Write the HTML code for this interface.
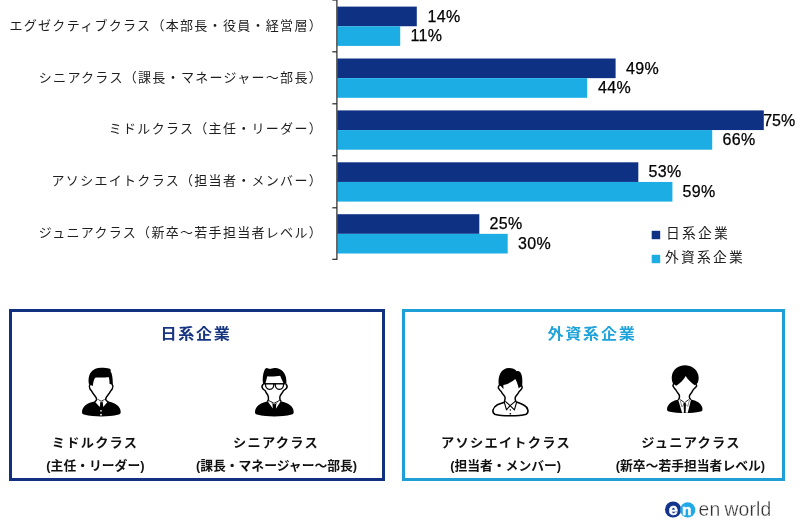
<!DOCTYPE html>
<html lang="ja">
<head>
<meta charset="utf-8">
<title>クラス別グラフ</title>
<style>
html,body{margin:0;padding:0;background:#fff;}
body{width:800px;height:528px;position:relative;overflow:hidden;font-family:"Liberation Sans","Noto Sans CJK JP",sans-serif;color:#1a1a1a;}
.abs{position:absolute;}
.bar{position:absolute;left:337.5px;height:19.6px;}
.d{background:#0f3184;}
.l{background:#1cade4;}
.cat{position:absolute;right:477px;white-space:nowrap;font-size:13px;letter-spacing:1.3px;line-height:20px;height:20px;font-weight:400;color:#1e1e1e;text-align:right;}
.val{position:absolute;white-space:nowrap;font-size:16px;letter-spacing:0.3px;-webkit-text-stroke:0.25px #000;line-height:20px;height:20px;color:#000;margin-top:0.1px;}
.tick{position:absolute;left:332px;width:5px;height:1px;background:#222;}
.lg{position:absolute;white-space:nowrap;font-size:13.8px;letter-spacing:2.2px;line-height:20px;font-weight:400;color:#222;}
.box{position:absolute;box-sizing:border-box;border:3px solid;}
.bt{position:absolute;white-space:nowrap;font-weight:700;font-size:15.2px;letter-spacing:1.6px;line-height:24px;text-align:center;transform:scaleX(1.06);}
.nm{margin-left:0.3px;position:absolute;white-space:nowrap;font-weight:700;font-size:12.6px;letter-spacing:1.2px;line-height:20px;text-align:center;color:#111;transform:translateX(-50%) scaleX(1.05);}
.sb{position:absolute;white-space:nowrap;font-weight:700;font-size:12.8px;letter-spacing:0;line-height:18px;text-align:center;color:#111;transform:translateX(-50%);}
</style>
</head>
<body>
<!-- chart -->
<svg class="abs" style="left:0;top:0" width="800" height="290" viewBox="0 0 800 290">
<rect x="337.3" y="6.60" width="79.5" height="19.65" fill="#0f3184"/>
<rect x="337.3" y="26.25" width="62.9" height="19.65" fill="#1cade4"/>
<rect x="337.3" y="58.50" width="278.3" height="19.65" fill="#0f3184"/>
<rect x="337.3" y="78.15" width="249.9" height="19.65" fill="#1cade4"/>
<rect x="337.3" y="110.40" width="426.5" height="19.65" fill="#0f3184"/>
<rect x="337.3" y="130.05" width="374.9" height="19.65" fill="#1cade4"/>
<rect x="337.3" y="162.30" width="301.0" height="19.65" fill="#0f3184"/>
<rect x="337.3" y="181.95" width="335.1" height="19.65" fill="#1cade4"/>
<rect x="337.3" y="214.20" width="142.0" height="19.65" fill="#0f3184"/>
<rect x="337.3" y="233.85" width="170.4" height="19.65" fill="#1cade4"/>
<rect x="336.3" y="0" width="1.2" height="259.9" fill="#262626"/>
<rect x="332.3" y="-0.60" width="4.6" height="1.2" fill="#262626"/>
<rect x="332.3" y="51.20" width="4.6" height="1.2" fill="#262626"/>
<rect x="332.3" y="103.20" width="4.6" height="1.2" fill="#262626"/>
<rect x="332.3" y="155.10" width="4.6" height="1.2" fill="#262626"/>
<rect x="332.3" y="207.20" width="4.6" height="1.2" fill="#262626"/>
<rect x="332.3" y="258.70" width="4.6" height="1.2" fill="#262626"/>
<rect x="651.7" y="230.8" width="8.5" height="8.4" fill="#0f3184"/>
<rect x="651.7" y="254.8" width="8.5" height="8.4" fill="#1cade4"/>
</svg>

<!-- category labels -->
<div class="cat" style="top:15.8px">エグゼクティブクラス（本部長・役員・経営層）</div>
<div class="cat" style="top:67.6px">シニアクラス（課長・マネージャー～部長）</div>
<div class="cat" style="top:119.45px">ミドルクラス（主任・リーダー）</div>
<div class="cat" style="top:171.3px">アソシエイトクラス（担当者・メンバー）</div>
<div class="cat" style="top:223.1px">ジュニアクラス（新卒～若手担当者レベル）</div>

<!-- values -->
<div class="val" style="left:427.5px;top:6.5px">14%</div>
<div class="val" style="left:410.5px;top:26px">11%</div>
<div class="val" style="left:626px;top:58.5px">49%</div>
<div class="val" style="left:598px;top:78px">44%</div>
<div class="val" style="left:763.2px;top:110.5px;letter-spacing:0">75%</div>
<div class="val" style="left:722.5px;top:130px">66%</div>
<div class="val" style="left:648.5px;top:162.3px">53%</div>
<div class="val" style="left:682.5px;top:182px">59%</div>
<div class="val" style="left:489.5px;top:214px">25%</div>
<div class="val" style="left:518px;top:233.7px">30%</div>

<!-- legend -->
<div class="lg" style="left:666px;top:224px">日系企業</div>
<div class="lg" style="left:665px;top:248px">外資系企業</div>

<!-- boxes -->
<div class="box" style="left:9px;top:309px;width:376px;height:172px;border-color:#11307f"></div>
<div class="box" style="left:402px;top:309px;width:383px;height:172px;border-color:#1e9fd6"></div>
<div class="bt" style="left:95.8px;width:200px;top:321.9px;color:#173581">日系企業</div>
<div class="bt" style="left:492.3px;width:200px;top:321.9px;color:#1fa3db">外資系企業</div>

<div class="nm" style="left:95px;top:433px">ミドルクラス</div>
<div class="sb" style="left:95.4px;top:456.5px">(主任・リーダー)</div>
<div class="nm" style="left:276px;top:433px">シニアクラス</div>
<div class="sb" style="left:276.5px;top:456.5px">(課長・マネージャー～部長)</div>
<div class="nm" style="left:505.3px;top:433px">アソシエイトクラス</div>
<div class="sb" style="left:505.6px;top:456.5px">(担当者・メンバー)</div>
<div class="nm" style="left:690.7px;top:433px">ジュニアクラス</div>
<div class="sb" style="left:690.4px;top:456.5px">(新卒～若手担当者レベル)</div>

<!-- ICONS -->
<!-- icon 1: middle class -->
<svg class="abs" style="left:71px;top:360px" width="60" height="60" viewBox="0 0 528 528">
<path d="M208,366 C180,372 150,380 130,396 C108,413 97,436 97,456 L97,462 C97,472 104,477 114,480 C164,492 214,497 267,497 C320,497 370,492 420,480 C430,477 437,472 437,462 L437,456 C437,436 426,413 404,396 C384,380 354,372 330,366 L265,358 Z" fill="#000"/>
<path d="M225,330 L306,330 L312,352 L265,372 L220,352 Z" fill="#fff"/>
<path d="M211,368 L236,348 L259,367 L253,413 Z M323,368 L303,348 L279,367 L284,413 Z" fill="#fff"/>
<path d="M232,342 L265,363 L304,342" fill="none" stroke="#000" stroke-width="7" stroke-linejoin="round"/>
<path d="M168,211 C160,222 160,240 166,250 C172,262 178,268 182,274 C190,292 202,304 210,314 C218,324 226,334 225,346 L306,346 C305,334 312,324 320,314 C328,304 340,292 348,274 C352,268 358,262 364,250 C370,240 370,222 362,211 L362,150 L168,150 Z" fill="#fff"/>
<path d="M168,213 C160,224 160,242 166,252 C172,264 178,268 182,274 C190,292 202,304 210,314 C218,324 226,334 225,346 C224,354 218,361 211,366 M362,213 C370,224 370,242 364,252 C358,264 352,268 348,274 C340,292 328,304 320,314 C312,324 304,334 306,346 C307,354 314,361 324,367" fill="none" stroke="#000" stroke-width="13" stroke-linejoin="round" stroke-linecap="round"/>
<path d="M158,214 C150,180 155,140 170,115 C190,85 225,69 265,69 C295,69 320,70 340,76 C352,80 351,92 348,100 C362,120 368,160 368,216 L340,212 C339,190 337,170 334,152 C320,150 300,155 265,155 C240,155 225,154 213,157 C203,168 196,190 192,228 Z" fill="#000"/>
<ellipse cx="264" cy="447" rx="7.5" ry="8" fill="#fff"/>
<ellipse cx="264" cy="481" rx="8" ry="8" fill="#fff"/>
</svg>
<!-- icon 2: senior class (glasses) -->
<svg class="abs" style="left:244px;top:360px" width="60" height="60" viewBox="0 0 528 528">
<path d="M208,362 C180,370 150,380 130,396 C108,413 97,436 97,456 L97,462 C97,472 104,477 114,480 C164,492 214,497 267,497 C320,497 370,492 420,480 C430,477 437,472 437,462 L437,456 C437,436 426,413 404,396 C384,380 354,370 326,362 L265,356 Z" fill="#000"/>
<path d="M216,336 L316,336 L318,362 L265,390 L214,362 Z" fill="#fff"/>
<path d="M211,368 L222,360 L250,384 L254,426 Z M322,366 L312,358 L284,384 L281,428 Z" fill="#fff"/>
<path d="M219,357 L264,381 L314,355" fill="none" stroke="#000" stroke-width="7.5" stroke-linejoin="round"/>
<path d="M170,211 C160,222 158,240 166,250 C172,262 182,264 188,272 C194,288 204,300 210,311 C216,322 216,334 215,346 L316,346 C314,334 314,322 320,311 C328,298 342,284 348,268 C354,260 364,258 370,246 C378,236 378,222 368,211 L368,140 L170,140 Z" fill="#fff"/>
<path d="M168,213 C158,224 158,242 164,250 C170,262 182,264 188,272 C194,288 204,300 210,311 C216,322 216,334 215,346 C214,352 212,357 208,361 M370,213 C380,224 380,240 374,248 C368,260 354,262 348,268 C342,284 328,298 320,311 C314,322 314,334 316,346 C317,352 319,356 324,359" fill="none" stroke="#000" stroke-width="13" stroke-linejoin="round" stroke-linecap="round"/>
<path d="M168,210 C160,170 166,120 180,90 C186,78 190,70 198,70 C210,70 220,80 235,78 C250,76 262,71 280,71 C310,72 335,90 350,110 C368,135 375,165 373,210 L348,206 L318,138 C290,143 240,147 205,143 L188,208 Z" fill="#000"/>
<path d="M170,209 L364,209" stroke="#000" stroke-width="13"/>
<path d="M189,210 L262,210 C264,236 252,259 226,259 C200,259 187,236 189,210 Z M275,210 L348,210 C350,236 337,259 311,259 C285,259 273,236 275,210 Z" fill="#fff" stroke="#000" stroke-width="11" stroke-linejoin="round"/>
</svg>
<!-- icon 3: associate class (white shirt) -->
<svg class="abs" style="left:480px;top:360px" width="60" height="60" viewBox="0 0 528 528">
<path d="M210,374 C190,380 170,386 153,394 C134,404 120,420 115,440 C112,452 114,466 128,477 C170,488 220,491 268,491 C316,491 366,488 408,477 C422,466 424,452 421,440 C416,420 404,406 388,398 C370,388 350,380 328,372" fill="#fff" stroke="#000" stroke-width="14" stroke-linejoin="round" stroke-linecap="round"/>
<path d="M168,229 C160,238 162,250 170,256 C176,266 182,272 188,280 C194,294 204,304 213,314 C220,322 222,332 220,342 L218,372 L316,372 L310,344 C308,334 310,326 315,319 C326,306 338,294 343,280 C350,270 358,262 364,252 C370,244 370,236 365,229 L365,150 L168,150 Z" fill="#fff"/>
<path d="M167,226 C160,236 160,248 168,256 C174,266 182,272 188,280 C194,294 204,304 213,314 C220,322 222,332 220,342 C219,350 218,356 216,364 M366,226 C372,236 372,246 366,254 C360,264 350,270 343,280 C338,294 326,306 315,319 C310,326 308,334 310,344 C311,352 313,358 316,366" fill="none" stroke="#000" stroke-width="13" stroke-linejoin="round" stroke-linecap="round"/>
<path d="M213,369 L233,439 L265,401 L303,439 L323,369" fill="none" stroke="#000" stroke-width="10" stroke-linejoin="round" stroke-linecap="round"/>
<path d="M226,366 L265,401 L310,364" fill="none" stroke="#000" stroke-width="10" stroke-linejoin="round" stroke-linecap="round"/>
<path d="M166,224 C160,190 162,150 178,118 C196,88 222,71 255,71 C285,71 308,82 323,98 C335,95 348,100 356,110 C370,130 376,165 371,226 L362,234 L340,248 C334,215 322,188 310,168 C285,192 245,212 205,220 L207,258 L185,230 Z" fill="#000"/>
<circle cx="267" cy="440" r="6.5" fill="#000"/>
<circle cx="267" cy="473" r="7.5" fill="#000"/>
</svg>
<!-- icon 4: junior class -->
<svg class="abs" style="left:655px;top:358px" width="60" height="60" viewBox="0 0 528 528">
<path d="M208,364 C185,372 160,378 140,392 C118,408 106,430 106,450 L106,454 C106,464 112,468 122,471 C168,481 212,485 262,485 C312,485 356,481 402,471 C412,468 418,464 418,454 L418,450 C418,430 406,408 384,392 C364,378 338,372 314,364 L260,356 Z" fill="#000"/>
<path d="M205,370 L222,358 L300,358 L316,370 L288,482 L238,482 Z" fill="#fff"/>
<path d="M220,364 L260,394 L303,361" fill="none" stroke="#000" stroke-width="7.5" stroke-linejoin="round"/>
<path d="M221,372 L238,430 L260,396 L288,426 L304,370" fill="none" stroke="#000" stroke-width="4" stroke-linejoin="round"/>
<path d="M252,396 L270,396 L272,412 L269,484 L255,484 L252,412 Z" fill="#000"/>
<path d="M166,229 C158,238 158,250 166,256 C172,266 178,272 183,280 C190,296 202,308 210,319 C216,328 217,336 215,346 L212,362 L308,362 L303,346 C301,336 303,330 308,324 C318,312 328,298 333,284 C340,272 350,264 358,254 C364,246 364,236 360,229 L360,150 L166,150 Z" fill="#fff"/>
<path d="M163,227 C156,238 156,248 164,256 C170,266 178,272 183,280 C190,296 202,308 210,319 C216,328 217,336 215,346 C214,352 212,357 209,362 M361,227 C368,238 368,246 361,254 C354,264 340,272 333,284 C328,298 318,312 308,324 C303,330 301,336 303,346 C304,352 306,357 311,361" fill="none" stroke="#000" stroke-width="13" stroke-linejoin="round" stroke-linecap="round"/>
<path d="M158,224 C146,200 144,165 152,140 C166,96 210,63 263,63 C320,63 368,98 380,145 C388,175 384,200 375,220 L350,240 C330,225 290,195 270,158 C252,195 215,225 186,244 Z" fill="#000"/>
</svg>
<!-- /ICONS -->

<!-- logo -->
<svg class="abs" style="left:660px;top:498px" width="40" height="24" viewBox="0 0 40 24">
<circle cx="13.1" cy="11.5" r="8.1" fill="#14338c"/>
<circle cx="27.7" cy="11.9" r="7.6" fill="#1fa9e6"/>
<text x="13.3" y="16.6" text-anchor="middle" font-family="Liberation Sans, sans-serif" font-weight="700" font-size="16.5" fill="#fff" stroke="#fff" stroke-width="0.5">e</text>
<text x="26.7" y="16.5" text-anchor="middle" font-family="Liberation Sans, sans-serif" font-weight="700" font-size="15.5" fill="#fff" stroke="#fff" stroke-width="0.5">n</text>
</svg>
<div class="abs" style="left:698.6px;top:498.3px;font-size:19.3px;letter-spacing:0.2px;line-height:24px;color:#333;white-space:nowrap;word-spacing:-1.6px;-webkit-text-stroke:0.3px #fff">en world</div>
</body>
</html>
